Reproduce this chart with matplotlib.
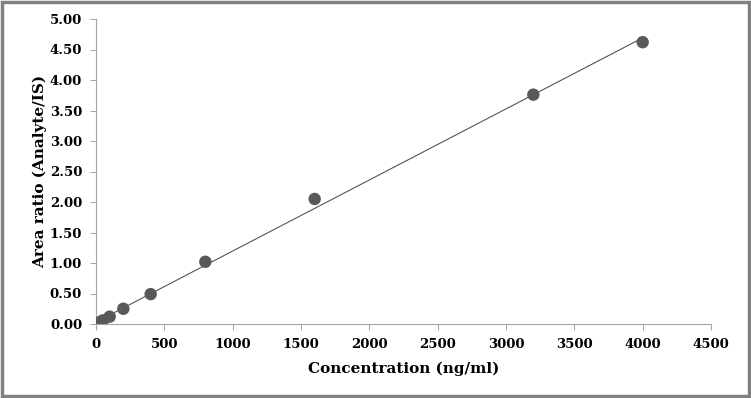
import numpy as np
import matplotlib
matplotlib.use("Agg")
import matplotlib.pyplot as plt
from matplotlib.patches import Rectangle

conc = [10, 25, 50, 100, 200, 400, 800, 1600, 3200, 4000]
ratio = [0.01, 0.03, 0.06, 0.12, 0.25, 0.49, 1.02, 2.05, 3.76, 4.62]
xticks = [0, 500, 1000, 1500, 2000, 2500, 3000, 3500, 4000, 4500]
yticks = [0, 0.5, 1.0, 1.5, 2.0, 2.5, 3.0, 3.5, 4.0, 4.5, 5.0]

plt.rcParams['font.family'] = ['DejaVu Serif']
plt.rcParams['font.weight'] = 'bold'

fig = plt.figure(figsize=(7.51, 3.98), dpi=100)
fig.patches.append(Rectangle((0.003, 0.005), 0.994, 0.99, transform=fig.transFigure,
                             fill=False, edgecolor='#808080', linewidth=2.5))
ax = fig.add_axes([96/751, 74/398, 615/751, 305/398])

slope, icpt = np.polyfit(conc, ratio, 1)
xs = np.array([0, max(conc)])
ax.plot(xs, slope*xs + icpt, color='#555555', linewidth=0.8, zorder=2)
ax.scatter(conc, ratio, s=80, color='#595959', zorder=3, edgecolors='none')

ax.set_xlim(0, 4500)
ax.set_ylim(0, 5)
ax.set_xticks(xticks)
ax.set_yticks(yticks)
ax.set_yticklabels(['%.2f' % v for v in yticks])
ax.tick_params(labelsize=9.5, colors='#a6a6a6', labelcolor='black', length=4)
ax.tick_params(axis='x', pad=6)
ax.tick_params(axis='y', pad=6)
for s in ['top', 'right']:
    ax.spines[s].set_visible(False)
for s in ['left', 'bottom']:
    ax.spines[s].set_color('#a6a6a6')
ax.set_xlabel('Concentration (ng/ml)', fontsize=11, fontweight='bold', labelpad=8)
ax.set_ylabel('Area ratio (Analyte/IS)', fontsize=11, fontweight='bold', labelpad=2)
ax.patch.set_alpha(0)

fig.savefig('out.png', dpi=100)
